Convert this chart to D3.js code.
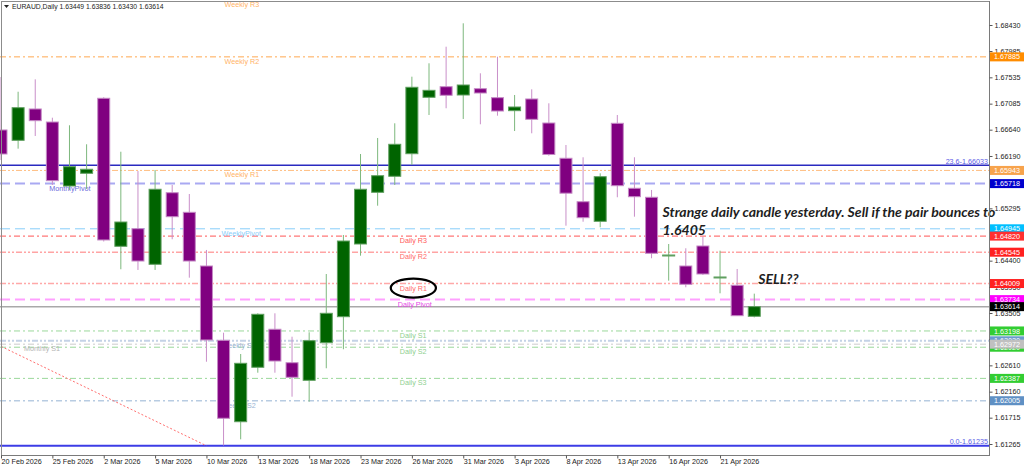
<!DOCTYPE html>
<html>
<head>
<meta charset="utf-8">
<script src="https://cdnjs.cloudflare.com/ajax/libs/d3/7.8.5/d3.min.js"></script>
<style>
  body { margin: 0; background: #fff; }
  svg { display: block; font-family: "Liberation Sans", Arial, sans-serif; }
</style>
</head>
<body>
<svg width="1024" height="467"></svg>
<script>
'use strict';
(function() {
  // ---- data ----
  var symbol = "EURAUD,Daily";
  var dates = ["20 Feb 2026", "23 Feb 2026", "24 Feb 2026", "25 Feb 2026", "26 Feb 2026", "27 Feb 2026",
    "2 Mar 2026", "3 Mar 2026", "4 Mar 2026", "5 Mar 2026", "6 Mar 2026", "9 Mar 2026", "10 Mar 2026",
    "11 Mar 2026", "12 Mar 2026", "13 Mar 2026", "16 Mar 2026", "17 Mar 2026", "18 Mar 2026", "19 Mar 2026",
    "20 Mar 2026", "23 Mar 2026", "24 Mar 2026", "25 Mar 2026", "26 Mar 2026", "27 Mar 2026", "30 Mar 2026",
    "31 Mar 2026", "1 Apr 2026", "2 Apr 2026", "3 Apr 2026", "6 Apr 2026", "7 Apr 2026", "8 Apr 2026",
    "9 Apr 2026", "10 Apr 2026", "13 Apr 2026", "14 Apr 2026", "15 Apr 2026", "16 Apr 2026", "17 Apr 2026",
    "20 Apr 2026", "21 Apr 2026", "22 Apr 2026", "23 Apr 2026"];
  var opens = [1.66635, 1.66458, 1.66994, 1.66771, 1.65677, 1.65894, 1.67177, 1.64646, 1.64947, 1.64338,
    1.65562, 1.65227, 1.64309, 1.63038, 1.61646, 1.62577, 1.63227, 1.62655, 1.62354, 1.62997, 1.63442,
    1.64685, 1.65569, 1.65843, 1.66229, 1.67194, 1.67375, 1.67233, 1.67341, 1.67187, 1.66965, 1.67165,
    1.66754, 1.66151, 1.65408, 1.65073, 1.66749, 1.65638, 1.65484, 1.64480, 1.64309, 1.64651, 1.64104,
    1.63979, 1.63449];
  var highs = [1.67541, 1.67289, 1.67501, 1.66845, 1.66715, 1.66390, 1.67194, 1.66263, 1.65933, 1.65951,
    1.65694, 1.65540, 1.64583, 1.63168, 1.62804, 1.63500, 1.63500, 1.63100, 1.63175, 1.64172, 1.64839,
    1.66224, 1.66498, 1.66749, 1.67546, 1.67775, 1.68059, 1.68459, 1.67604, 1.67888, 1.67233, 1.67330,
    1.67091, 1.66378, 1.66168, 1.65894, 1.66891, 1.66168, 1.65609, 1.64685, 1.64612, 1.64810, 1.64571,
    1.64258, 1.63836];
  var lows = [1.66122, 1.66315, 1.66532, 1.65694, 1.65609, 1.65626, 1.64728, 1.64253, 1.64241, 1.64241,
    1.64766, 1.64109, 1.62672, 1.61240, 1.61345, 1.62484, 1.62484, 1.62074, 1.61988, 1.62560, 1.62885,
    1.64485, 1.65340, 1.65694, 1.66036, 1.66891, 1.67006, 1.66823, 1.66732, 1.66879, 1.66617, 1.66578,
    1.66195, 1.64998, 1.65066, 1.64971, 1.65484, 1.65152, 1.64441, 1.64058, 1.63945, 1.64155, 1.63842,
    1.63454, 1.63430];
  var closes = [1.66224, 1.67016, 1.66794, 1.65768, 1.66007, 1.65963, 1.64754, 1.65061, 1.64394, 1.65621,
    1.65152, 1.64394, 1.63044, 1.61705, 1.62645, 1.63483, 1.62684, 1.62406, 1.63032, 1.63500, 1.64736,
    1.65621, 1.65853, 1.66390, 1.67365, 1.67313, 1.67228, 1.67404, 1.67267, 1.66959, 1.67028, 1.66817,
    1.66216, 1.65554, 1.65135, 1.65836, 1.65682, 1.65494, 1.64526, 1.64497, 1.63996, 1.64172, 1.64121,
    1.63459, 1.63614];

  var dateTicks = ["20 Feb 2026", "25 Feb 2026", "2 Mar 2026", "5 Mar 2026", "10 Mar 2026", "13 Mar 2026",
    "18 Mar 2026", "23 Mar 2026", "26 Mar 2026", "31 Mar 2026", "3 Apr 2026", "8 Apr 2026", "13 Apr 2026",
    "16 Apr 2026", "21 Apr 2026"];
  // ticks that sit completely under a price box are left out, as they are not seen
  var priceTicks = [1.68430, 1.67985, 1.67535, 1.67085, 1.66640, 1.66190, 1.65295,
    1.64400, 1.63950, 1.63505, 1.63060, 1.62610, 1.62160, 1.61715, 1.61265];

  var levelNames = ["Weekly R3", "Weekly R2", "Weekly R1", "MonthlyPivot", "WeeklyPivot", "Daily R3",
    "Daily R2", "Daily R1", "Daily Pivot", "Daily S1", "Weekly S1", "Daily S2", "Monthly S1", "Daily S3",
    "Weekly S2"];
  var levelPrices = [1.68866, 1.67885, 1.65943, 1.65718, 1.64945, 1.64820, 1.64545, 1.64009, 1.63734,
    1.63198, 1.63030, 1.62920, 1.62972, 1.62387, 1.62005];

  var fibNames = ["23.6", "0.0"];
  var fibPrices = [1.66033, 1.61235];
  var trendDates = ["20 Feb 2026", "10 Mar 2026"];
  var trendPrices = [1.62935, 1.61235];

  var noteLines = ["Strange daily candle yesterday. Sell if the pair bounces to", "1.6405"];
  var noteSell = "SELL??";

  // ---- styles ----
  var DASH = "10,5", DASHDOT = "6,3,2,3", DASHDOT2 = "6,2,2,2,2,2";
  var levelStyle = {
    "Weekly R3":   { line: "#ffa850", dash: DASHDOT,  w: 1,   text: "#ffb266", box: null,      at: 13, dx: 1 },
    "Weekly R2":   { line: "#ffa850", dash: DASHDOT,  w: 1,   text: "#ffb266", box: "#ff8c00", at: 13, dx: 1 },
    "Weekly R1":   { line: "#ffbe80", dash: DASHDOT2, w: 1,   text: "#ffb266", box: "#f7a34c", at: 13, dx: 1 },
    "MonthlyPivot":{ line: "#a9a9f2", dash: DASH,     w: 2,   text: "#6b6bdc", box: "#0000cd", at: 3,  dx: -3 },
    "WeeklyPivot": { line: "#87cefa", dash: DASH,     w: 1,   text: "#87cefa", box: "#00bfff", at: 13, dx: -2 },
    "Daily R3":    { line: "#ff5555", dash: DASHDOT,  w: 1,   text: "#ff5a5a", box: "#ff3030", at: 23, dx: 5 },
    "Daily R2":    { line: "#ffa4a4", dash: DASHDOT2, w: 1.5, text: "#ff6a6a", box: "#ff2020", at: 23, dx: 5 },
    "Daily R1":    { line: "#ffa8a8", dash: DASHDOT2, w: 1.5, text: "#ff6a6a", box: "#ff2020", at: 23, dx: 5 },
    "Daily Pivot": { line: "#ffa0ff", dash: DASH,     w: 2,   text: "#e648e6", box: "#ff00ff", at: 23, dx: 3 },
    "Daily S1":    { line: "#9ad89a", dash: DASHDOT,  w: 1,   text: "#8fd08f", box: "#32cd32", at: 23, dx: 5 },
    "Weekly S1":   { line: "#c4d2e6", dash: DASHDOT2, w: 2,   text: "#9ab4d4", box: "#6a9bcc", at: 13, dx: -2 },
    "Daily S2":    { line: "#9ad89a", dash: DASHDOT,  w: 1,   text: "#8fd08f", box: "#32cd32", at: 23, dx: 5 },
    "Monthly S1":  { line: "#cccccc", dash: DASHDOT,  w: 1,   text: "#b4b4b4", box: "#c0c0c0", at: 1,  dx: 6 },
    "Daily S3":    { line: "#9ad89a", dash: DASHDOT,  w: 1,   text: "#8fd08f", box: "#32cd32", at: 23, dx: 5 },
    "Weekly S2":   { line: "#b8cce2", dash: DASHDOT,  w: 1.5, text: "#9ab4d4", box: "#5f90c4", at: 13, dx: -2 }
  };

  var svg = d3.select("svg");
  var plot = { left: 0, right: 989, top: 1, bottom: 455 };

  var x = d3.scalePoint().domain(dates).range([1, 1 + 17.12 * (dates.length - 1)]);
  var y = d3.scaleLinear().domain([1.61265, 1.68430]).range([444, 25]);
  var fmt = d3.format(".5f");

  svg.append("rect").attr("width", 1024).attr("height", 467).attr("fill", "#fff");

  svg.append("defs").append("clipPath").attr("id", "plotclip")
    .append("rect")
    .attr("x", plot.left).attr("y", plot.top)
    .attr("width", plot.right - plot.left).attr("height", plot.bottom - plot.top);

  var g = svg.append("g").attr("clip-path", "url(#plotclip)");

  // level lines
  levelNames.forEach(function(name, i) {
    var s = levelStyle[name];
    g.append("line")
      .attr("x1", plot.left).attr("x2", plot.right)
      .attr("y1", y(levelPrices[i])).attr("y2", y(levelPrices[i]))
      .attr("stroke", s.line).attr("stroke-width", s.w)
      .attr("stroke-dasharray", s.dash);
  });

  // bid line
  var bid = closes[closes.length - 1];
  g.append("line")
    .attr("x1", plot.left).attr("x2", plot.right)
    .attr("y1", y(bid)).attr("y2", y(bid))
    .attr("stroke", "#a9a9a9").attr("stroke-width", 1.5);

  // fibo lines + trend
  fibNames.forEach(function(name, i) {
    g.append("line")
      .attr("x1", plot.left).attr("x2", plot.right)
      .attr("y1", y(fibPrices[i])).attr("y2", y(fibPrices[i]))
      .attr("stroke", i === 0 ? "#2a2ac0" : "#3c3ce6").attr("stroke-width", i === 0 ? 1.5 : 2);
    g.append("text")
      .attr("x", plot.right - 1).attr("y", y(fibPrices[i]) - 1.5)
      .attr("text-anchor", "end")
      .attr("font-size", 7.2).attr("fill", "#5a5ae6")
      .text(name + "-" + fmt(fibPrices[i]));
  });
  g.append("line")
    .attr("x1", x(trendDates[0])).attr("y1", y(trendPrices[0]))
    .attr("x2", x(trendDates[1])).attr("y2", y(trendPrices[1]))
    .attr("stroke", "#ff6f6f").attr("stroke-width", 1)
    .attr("stroke-dasharray", "2,2");

  // level labels (behind candles)
  var labels = {};
  levelNames.forEach(function(name, i) {
    var s = levelStyle[name];
    labels[name] = g.append("text")
      .attr("x", x(dates[s.at]) + s.dx)
      .attr("y", y(levelPrices[i]) + 7)
      .attr("font-size", 7.2).attr("fill", s.text)
      .text(name);
  });

  // candles
  var candles = dates.map(function(d, i) {
    return { date: d, o: opens[i], h: highs[i], l: lows[i], c: closes[i] };
  });
  var cg = g.selectAll(".candle").data(candles).enter().append("g").attr("class", "candle");
  cg.append("line")
    .attr("x1", function(d) { return x(d.date); })
    .attr("x2", function(d) { return x(d.date); })
    .attr("y1", function(d) { return y(d.h); })
    .attr("y2", function(d) { return y(d.l); })
    .attr("stroke", function(d) { return d.c >= d.o ? "#7db87d" : "#c98fc9"; })
    .attr("stroke-width", 1);
  cg.append("rect")
    .attr("x", function(d) { return x(d.date) - 6; })
    .attr("width", 12)
    .attr("y", function(d) { return y(Math.max(d.o, d.c)); })
    .attr("height", function(d) { return Math.max(0.5, Math.abs(y(d.o) - y(d.c))); })
    .attr("fill", function(d) { return d.c >= d.o ? "#006400" : "#800080"; })
    .attr("stroke", function(d) { return d.c >= d.o ? "#5f9f5f" : "#c58ac5"; })
    .attr("stroke-width", 1);

  // circle around Daily R1
  var bb = labels["Daily R1"].node().getBBox();
  g.append("ellipse")
    .attr("cx", bb.x + bb.width / 2).attr("cy", bb.y + bb.height / 2)
    .attr("rx", bb.width / 2 + 9).attr("ry", bb.height / 2 + 5)
    .attr("fill", "none").attr("stroke", "#000").attr("stroke-width", 2.2);

  // notes
  function fitText(sel, target) {
    var len = sel.node().getComputedTextLength();
    sel.attr("font-size", 14 * target / len);
  }
  var noteX = x(dates[38]) + 11;
  var n1 = svg.append("text").attr("x", noteX).attr("y", 217)
    .attr("font-family", "Lato, 'Open Sans', sans-serif")
    .attr("font-weight", "bold").attr("font-style", "italic")
    .attr("font-size", 14).attr("fill", "#1e1e1e").text(noteLines[0]);
  fitText(n1, 333);
  var fs = +n1.attr("font-size");
  svg.append("text").attr("x", noteX).attr("y", 235)
    .attr("font-family", "Lato, 'Open Sans', sans-serif")
    .attr("font-weight", "bold").attr("font-style", "italic")
    .attr("font-size", fs).attr("fill", "#1e1e1e").text(noteLines[1]);
  svg.append("text").attr("x", x(dates[44]) + 4).attr("y", 284)
    .attr("font-family", "Lato, 'Open Sans', sans-serif")
    .attr("font-weight", "bold").attr("font-style", "italic")
    .attr("font-size", fs).attr("fill", "#1e1e1e").text(noteSell);

  // frame
  svg.append("line").attr("x1", 1.5).attr("x2", 1.5).attr("y1", 1).attr("y2", plot.bottom)
    .attr("stroke", "#8c8c8c");
  svg.append("line").attr("x1", 1).attr("x2", plot.right).attr("y1", 1.5).attr("y2", 1.5)
    .attr("stroke", "#8c8c8c");
  svg.append("line").attr("x1", plot.right + 0.5).attr("x2", plot.right + 0.5).attr("y1", 1).attr("y2", plot.bottom + 0.5)
    .attr("stroke", "#7a7a7a");
  svg.append("line").attr("x1", 1).attr("x2", plot.right + 1).attr("y1", plot.bottom + 0.5).attr("y2", plot.bottom + 0.5)
    .attr("stroke", "#7a7a7a");

  // bottom axis
  var xAxis = svg.append("g")
    .attr("transform", "translate(0," + (plot.bottom + 0.5) + ")")
    .call(d3.axisBottom(x).tickValues(dateTicks).tickSize(3).tickSizeOuter(0));
  xAxis.select(".domain").remove();
  xAxis.selectAll("line").attr("stroke", "#555");
  xAxis.selectAll("text")
    .attr("text-anchor", "start").attr("y", 3).attr("x", 0)
    .attr("font-size", 7.2).attr("font-family", "'Liberation Sans', Arial, sans-serif").attr("fill", "#222");

  // right axis
  var yAxis = svg.append("g")
    .attr("transform", "translate(" + (plot.right + 0.5) + ",0)")
    .call(d3.axisRight(y).tickValues(priceTicks).tickSize(3).tickSizeOuter(0).tickFormat(fmt));
  yAxis.select(".domain").remove();
  yAxis.selectAll("line").attr("stroke", "#555");
  yAxis.selectAll("text")
    .attr("x", 5)
    .attr("font-size", 7.2).attr("font-family", "'Liberation Sans', Arial, sans-serif").attr("fill", "#222");

  // price boxes on the axis
  var boxes = [];
  levelNames.forEach(function(name, i) {
    if (levelStyle[name].box) boxes.push({ p: levelPrices[i], c: levelStyle[name].box });
  });
  boxes.push({ p: bid, c: "#000" });
  var bg = svg.append("g");
  boxes.forEach(function(b) {
    bg.append("rect")
      .attr("x", plot.right + 1).attr("y", y(b.p) - 4.5)
      .attr("width", 1024 - plot.right - 1).attr("height", 9)
      .attr("fill", b.c);
    bg.append("text")
      .attr("x", plot.right + 5).attr("y", y(b.p) + 2.6)
      .attr("font-size", 7.2).attr("fill", "#fff")
      .text(fmt(b.p));
  });

  // header
  svg.append("path").attr("d", "M4,5 L9,5 L6.5,8 Z").attr("fill", "#222");
  var last = candles[candles.length - 1];
  svg.append("text").attr("x", 12).attr("y", 9)
    .attr("font-size", 6.8).attr("fill", "#222")
    .text(symbol + "  " + [last.o, last.h, last.l, last.c].map(fmt).join(" "));
})();
</script>
</body>
</html>
